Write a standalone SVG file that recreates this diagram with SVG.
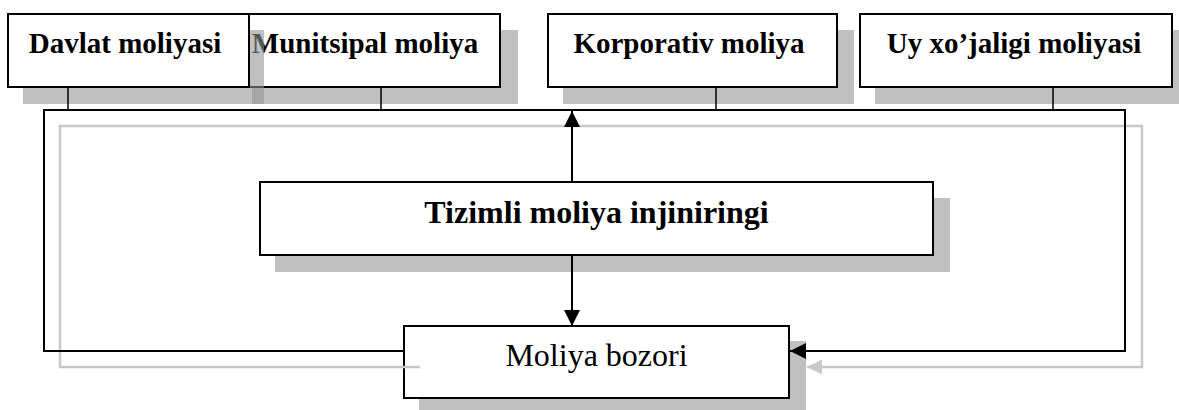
<svg xmlns="http://www.w3.org/2000/svg" width="1179" height="410" viewBox="0 0 1179 410">
<defs>
<style>
.box{fill:#fff;stroke:#000;stroke-width:2}
.sh{fill:#c0c0c0}
.t{font-family:"Liberation Serif","Times New Roman",serif;font-weight:bold;font-size:29px;text-anchor:middle;fill:#000}
.ln{fill:none;stroke:#000;stroke-width:2}
.stub{fill:none;stroke:#000;stroke-width:1.5}
.gl{fill:none;stroke:#c8c8c8;stroke-width:2.5}
</style>
<marker id="ah" viewBox="0 0 16 16" refX="16" refY="8" markerWidth="16" markerHeight="16" markerUnits="userSpaceOnUse" orient="auto">
<path d="M0,0 L16,8 L0,16 z" fill="#000"/>
</marker>
<marker id="ahg" viewBox="0 0 16 16" refX="16" refY="8" markerWidth="15" markerHeight="15" markerUnits="userSpaceOnUse" orient="auto">
<path d="M0,0 L16,8 L0,16 z" fill="#c8c8c8"/>
</marker>
</defs>
<rect width="1179" height="410" fill="#fff"/>

<g id="munitsipal">
<rect class="sh" x="252" y="30" width="266" height="74"/>
<rect class="box" x="237" y="14" width="263" height="73"/>
<text class="t" x="365" y="53">Munitsipal moliya</text>
</g>

<g id="davlat">
<rect x="23" y="30" width="241" height="74" fill="#929292" fill-opacity="0.58"/>
<rect class="box" x="8" y="14" width="241" height="73"/>
<text class="t" x="125" y="53">Davlat moliyasi</text>
</g>

<g id="korporativ">
<rect class="sh" x="563" y="30" width="291" height="74"/>
<rect class="box" x="548" y="14" width="289" height="73"/>
<text class="t" x="689" y="53">Korporativ moliya</text>
</g>

<g id="uy">
<rect class="sh" x="875" y="30" width="315" height="74"/>
<rect class="box" x="860" y="14" width="312" height="73"/>
<text class="t" x="1014" y="53">Uy xo’jaligi moliyasi</text>
</g>

<g id="tizimli">
<rect class="sh" x="275" y="198" width="675" height="74"/>
<rect class="box" x="260" y="182" width="673" height="73"/>
<text class="t" x="596.5" y="223" style="font-size:32px">Tizimli moliya injiniringi</text>
</g>

<g id="bozor">
<rect class="sh" x="419" y="341" width="387" height="74"/>
<rect class="box" x="404" y="326" width="385" height="72"/>
<text class="t" x="596.5" y="366" style="font-size:32px;font-weight:normal">Moliya bozori</text>
</g>

<g id="connectors">
<path class="gl" d="M420,367 H60 V126 H1142 V367 H807" marker-end="url(#ahg)"/>
<path class="stub" d="M68,87 V110 M381,87 V110 M716,87 V110 M1053,87 V110"/>
<path class="ln" d="M404,351 H44 V110 H1125 V351 H790" marker-end="url(#ah)"/>
<path class="ln" d="M572,182 V111" marker-end="url(#ah)"/>
<path class="ln" d="M572,255 V326" marker-end="url(#ah)"/>
</g>
</svg>
